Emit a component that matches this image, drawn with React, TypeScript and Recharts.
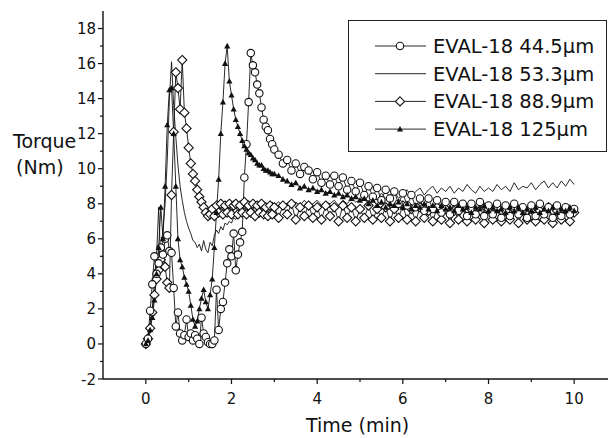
import { LineChart, Line, XAxis, YAxis, Legend } from 'recharts';

const FONT = '"DejaVu Sans", sans-serif';
const INK = '#111';

// torque logged every 0.05 min up to 3 min, then every 0.1 min
const EARLY_STEP = 0.05;
const LATE_START = 3.1;
const LATE_STEP = 0.1;

const eval445Early = [
  0, 0.3, 1.9, 3.4, 5.0, 4.0, 4.6, 5.5, 5.1, 6.0,
  6.2, 5.3, 5.2, 3.2, 1.0, 1.8, 0.6, 0.2, 0.5, 1.4,
  0.4, 0.6, 0.2, 0.5, 0.3, 0.0, 1.5, 0.6, 0.4, 0.1,
  0.0, 0.0, 0.2, 3.1, 0.8, 2.0, 2.4, 3.5, 4.6, 5.4,
  5.0, 6.3, 4.2, 5.1, 5.8, 6.4, 9.5, 11.4, 13.8, 16.6,
  15.9, 15.5, 14.8, 14.3, 13.5, 12.8, 12.4, 12.2, 11.7, 11.4,
  11.1,
];
const eval445Late = [
  10.8, 10.3, 10.5, 9.9, 10.3, 9.7, 10.1, 9.9, 9.4, 9.8,
  9.2, 9.6, 9.1, 9.6, 9.0, 9.5, 8.8, 9.3, 8.7, 9.2,
  8.5, 9.0, 8.4, 8.9, 8.2, 8.8, 8.3, 8.7, 8.0, 8.6,
  7.9, 8.5, 7.8, 8.3, 7.6, 8.3, 7.7, 8.2, 7.5, 8.1,
  7.4, 8.1, 7.6, 8.0, 7.3, 8.0, 7.4, 8.1, 7.3, 7.9,
  7.4, 8.0, 7.2, 7.9, 7.3, 8.0, 7.4, 7.8, 7.2, 7.9,
  7.3, 8.0, 7.4, 7.8, 7.2, 7.9, 7.3, 7.8, 7.4, 7.7,
];

const eval533Early = [
  0, 0.4, 1.2, 2.0, 3.5, 5.0, 7.8, 4.5, 6.5, 8.0,
  10.5, 14.0, 16.1, 13.6, 11.8, 10.2, 9.0, 8.2, 7.5, 7.0,
  6.6, 6.3, 5.9, 5.8, 5.5, 5.7, 5.3, 5.9, 5.4, 5.2,
  5.8, 5.6, 6.2, 6.5, 6.3, 6.7, 6.5, 6.9, 6.8, 7.0,
  6.9, 7.2, 7.1, 7.4, 7.3, 7.6, 7.7, 7.9, 7.8, 8.0,
  7.8, 8.1, 7.9, 8.0, 7.8, 8.1, 7.9, 8.0, 7.8, 8.1,
  7.9,
];
const eval533Late = [
  8.1, 7.9, 8.0, 7.8, 8.1, 7.9, 8.2, 7.9, 8.0, 8.2,
  7.9, 8.1, 8.0, 8.2, 7.9, 8.2, 8.0, 8.3, 8.1, 8.2,
  8.4, 8.1, 8.5, 8.2, 8.6, 8.3, 8.5, 8.7, 8.3, 8.6,
  8.8, 8.4, 8.7, 8.9, 8.5, 8.8, 9.0, 8.6, 8.9, 8.7,
  9.0, 8.6, 8.9, 8.7, 9.1, 8.8, 8.6, 9.0, 8.7, 8.9,
  8.7, 9.1, 8.8, 9.0, 8.7, 9.2, 8.8, 9.0, 8.9, 9.2,
  8.8, 9.1, 9.3, 8.9, 9.2, 8.9, 9.3, 9.0, 9.4, 9.1,
];

const eval889Early = [
  0, 0.3, 0.9, 1.8, 2.8, 3.7, 4.2, 4.8, 5.2, 4.4,
  3.5, 3.2, 8.5, 12.1, 15.5, 14.6, 13.4, 16.2, 13.2, 12.3,
  11.2, 10.3, 9.7, 9.3, 8.8, 8.4, 8.1, 7.8, 7.5, 7.3,
  7.4, 7.7, 7.3, 7.9, 7.5, 8.0, 7.4, 7.9, 7.5, 8.0,
  7.4, 7.9, 8.0, 7.4, 7.9, 7.5, 8.1, 7.4, 7.9, 7.5,
  8.0, 7.3, 7.9, 7.5, 8.0, 7.4, 7.8, 7.3, 7.9, 7.4,
  7.8,
];
const eval889Late = [
  7.2, 7.9, 7.4, 8.0, 7.1, 7.8, 7.3, 7.9, 7.2, 7.8,
  7.1, 7.9, 7.3, 7.8, 7.0, 7.9, 7.2, 7.8, 7.0, 7.7,
  7.2, 7.9, 7.1, 7.7, 7.2, 7.8, 7.0, 7.7, 7.2, 7.9,
  7.1, 7.7, 7.0, 7.8, 7.2, 7.6, 7.0, 7.8, 7.1, 7.7,
  6.9, 7.6, 7.1, 7.8, 7.0, 7.7, 7.1, 7.6, 6.9, 7.7,
  7.1, 7.8, 7.0, 7.6, 7.1, 7.7, 6.9, 7.6, 7.1, 7.7,
  7.0, 7.6, 7.1, 7.8, 6.9, 7.6, 7.1, 7.7, 7.0, 7.5,
];

const eval125Early = [
  0, 0.2, 0.8, 1.5, 2.5, 4.0, 5.5, 7.8, 6.0, 9.0,
  12.5, 14.5, 14.6, 12.0, 9.0, 6.0, 4.8, 4.4, 3.8, 3.4,
  3.0, 2.2, 1.4, 1.0, 1.3, 2.0, 2.6, 3.1, 2.4, 2.0,
  2.8, 3.7, 5.5, 7.5, 9.4, 12.0, 13.8, 16.0, 17.0, 15.0,
  14.2, 13.4, 12.8, 12.4, 12.0, 11.6, 11.3, 11.1, 10.9, 10.8,
  10.6, 10.5, 10.3, 10.2, 10.2, 10.0, 9.9, 9.9, 9.8, 9.7,
  9.7,
];
const eval125Late = [
  9.6, 9.4, 9.3, 9.1, 9.2, 8.9, 9.0, 8.8, 8.9, 8.7,
  8.8, 8.6, 8.7, 8.5, 8.6, 8.4, 8.5, 8.3, 8.4, 8.2,
  8.3, 8.0, 8.2, 7.9, 8.1, 7.8, 8.0, 7.9, 8.1, 7.8,
  8.0, 7.7, 7.9, 7.8, 8.0, 7.7, 7.9, 7.6, 7.9, 7.7,
  7.8, 7.6, 7.9, 7.7, 7.8, 7.5, 7.8, 7.7, 7.9, 7.6,
  7.8, 7.6, 7.7, 7.5, 7.8, 7.6, 7.8, 7.5, 7.7, 7.6,
  7.8, 7.5, 7.7, 7.6, 7.8, 7.5, 7.7, 7.6, 7.8, 7.6,
];

const timeTicks = [0, 1, 2, 3, 4, 5, 6, 7, 8, 9, 10];
const torqueTicks = [-2, -1, 0, 1, 2, 3, 4, 5, 6, 7, 8, 9, 10, 11, 12, 13, 14, 15, 16, 17, 18];

const toRows = (early: number[], late: number[]) => [
  ...early.map((v, i) => ({ t: i * EARLY_STEP, v })),
  ...late.map((v, i) => ({ t: LATE_START + i * LATE_STEP, v })),
];

const series = [
  { key: 'e533', size: '53.3', marker: 'none', rows: toRows(eval533Early, eval533Late) },
  { key: 'e889', size: '88.9', marker: 'diamond', rows: toRows(eval889Early, eval889Late) },
  { key: 'e445', size: '44.5', marker: 'circle', rows: toRows(eval445Early, eval445Late) },
  { key: 'e125', size: '125', marker: 'triangle', rows: toRows(eval125Early, eval125Late) },
];
const legendOrder = ['e445', 'e533', 'e889', 'e125'];

function Marker({ kind, cx, cy }: { kind: string; cx: number; cy: number }) {
  if (kind === 'circle') return <circle cx={cx} cy={cy} r={3.7} fill="#fff" stroke={INK} strokeWidth={1.1} />;
  if (kind === 'diamond') {
    const d = 4.6;
    return (
      <polygon
        points={`${cx},${cy - d} ${cx + d},${cy} ${cx},${cy + d} ${cx - d},${cy}`}
        fill="#fff" stroke={INK} strokeWidth={1.1}
      />
    );
  }
  if (kind === 'triangle') {
    return <polygon points={`${cx},${cy - 3.2} ${cx + 3.1},${cy + 2.4} ${cx - 3.1},${cy + 2.4}`} fill={INK} />;
  }
  return null;
}

const dotFor = (kind: string) => (props: any) => {
  const { cx, cy, index } = props;
  if (kind === 'none' || cx == null || cy == null) return <g key={index} />;
  return <g key={index}><Marker kind={kind} cx={cx} cy={cy} /></g>;
};

const TimeTick = ({ x, y, payload }: any) => {
  const major = payload.value % 2 === 0;
  return (
    <g>
      <line x1={x} x2={x} y1={y - 5} y2={major ? y : y - 2} stroke={INK} strokeWidth={1.2} />
      {major && (
        <text x={x} y={y + 20} textAnchor="middle" fontFamily={FONT} fontSize={15} fill={INK}>
          {payload.value}
        </text>
      )}
    </g>
  );
};

const TorqueTick = ({ x, y, payload }: any) => {
  const major = payload.value % 2 === 0;
  return (
    <g>
      <line x1={major ? x : x + 2} x2={x + 5} y1={y} y2={y} stroke={INK} strokeWidth={1.2} />
      {major && (
        <text x={x - 2} y={y + 5.5} textAnchor="end" fontFamily={FONT} fontSize={15} fill={INK}>
          {payload.value}
        </text>
      )}
    </g>
  );
};

const LegendBox = () => (
  <div style={{ width: 259, height: 132, border: '1px solid #222', boxSizing: 'border-box', background: '#fff' }}>
    <svg width={257} height={130} style={{ display: 'block' }}>
      {legendOrder.map((k, i) => {
        const s = series.find((d) => d.key === k)!;
        const base = 32 + i * 27.7;
        const ly = base - 7;
        return (
          <g key={k}>
            <line x1={26} x2={77} y1={ly} y2={ly} stroke={INK} strokeWidth={0.9} />
            <Marker kind={s.marker} cx={51} cy={ly} />
            <text x={84} y={base} fontFamily={FONT} fontSize={19.5} fill={INK}>
              {`EVAL-18 ${s.size}μm`}
            </text>
          </g>
        );
      })}
    </svg>
  </div>
);

export default function App() {
  return (
    <div style={{ position: 'absolute', left: 0, top: 0, width: 608, height: 438, overflow: 'hidden', background: '#fff' }}>
      <LineChart width={630} height={438} margin={{ top: 11, right: 13, bottom: 0, left: 0 }}>
        <XAxis
          dataKey="t" type="number" domain={[-1, 11]} ticks={timeTicks} allowDataOverflow
          height={59} tickSize={5} tickMargin={0} tickLine={false}
          axisLine={{ stroke: INK, strokeWidth: 1.4 }} tick={<TimeTick />} interval={0}
        />
        <XAxis
          xAxisId="top" orientation="top" type="number" domain={[-1, 11]} height={0}
          tick={false} tickLine={false} axisLine={{ stroke: '#222', strokeWidth: 1.4 }}
        />
        <YAxis
          type="number" domain={[-2, 19]} ticks={torqueTicks} allowDataOverflow width={103}
          tickSize={5} tickMargin={0} tickLine={false}
          axisLine={{ stroke: INK, strokeWidth: 1.4 }} tick={<TorqueTick />} interval={0}
        />
        <Legend
          layout="vertical" align="center" verticalAlign="middle"
          wrapperStyle={{ left: 348, top: 20, width: 259 }} content={<LegendBox />}
        />
        {series.map((s) => (
          <Line
            key={s.key} data={s.rows} dataKey="v" type="linear" name={s.key}
            stroke={INK} strokeWidth={0.9} dot={dotFor(s.marker)} activeDot={false}
            isAnimationActive={false}
          />
        ))}
      </LineChart>
      <svg width={608} height={438} style={{ position: 'absolute', left: 0, top: 0, pointerEvents: 'none' }}>
        <text x={13} y={148} fontFamily={FONT} fontSize={19} fill={INK}>Torque</text>
        <text x={16} y={174} fontFamily={FONT} fontSize={19} fill={INK}>(Nm)</text>
        <text x={306} y={432} fontFamily={FONT} fontSize={19} fill={INK}>Time (min)</text>
      </svg>
    </div>
  );
}
